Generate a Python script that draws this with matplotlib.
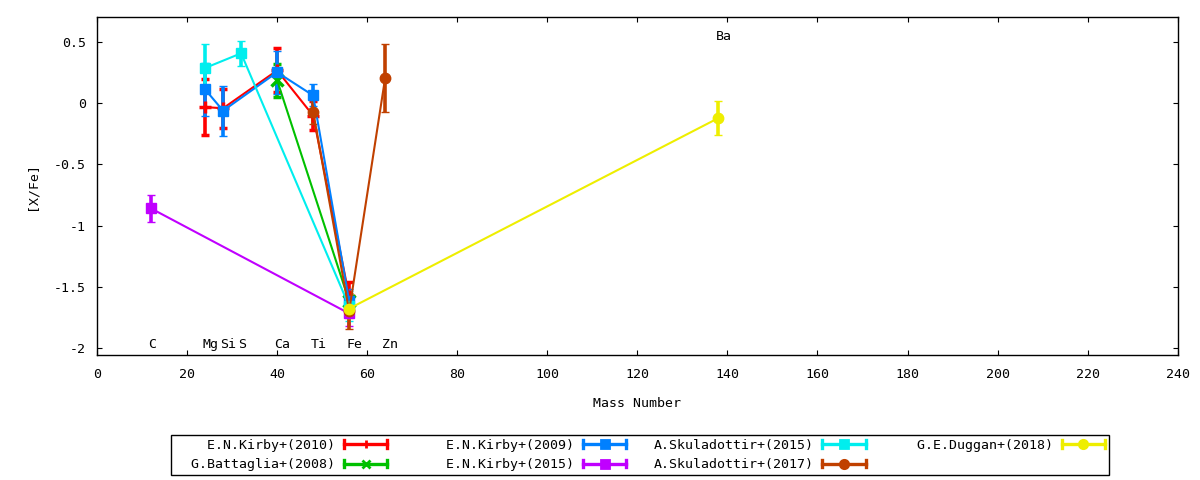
import numpy as np
import matplotlib
matplotlib.use('Agg')
from matplotlib import pyplot as plt
from matplotlib.lines import Line2D
from matplotlib.legend_handler import HandlerBase

plt.rcParams['font.family'] = ['DejaVu Sans Mono']
plt.rcParams['font.size'] = 9.5
plt.rcParams['axes.unicode_minus'] = False

# element labels
elements = ['C', 'Mg', 'Si', 'S', 'Ca', 'Ti', 'Fe', 'Zn', 'Ba']
mass = [12, 24, 28, 32, 40, 48, 56, 64, 138]
label_y = [-1.97, -1.97, -1.97, -1.97, -1.97, -1.97, -1.97, -1.97, 0.55]

# series: mass number, [X/Fe], error
kirby2010_x = [24, 28, 40, 48, 56]
kirby2010_y = [-0.03, -0.04, 0.27, -0.10, -1.58]
kirby2010_e = [0.23, 0.16, 0.18, 0.12, 0.12]

battaglia2008_x = [40, 56]
battaglia2008_y = [0.19, -1.62]
battaglia2008_e = [0.135, 0.05]

kirby2009_x = [24, 28, 40, 48, 56]
kirby2009_y = [0.115, -0.06, 0.255, 0.065, -1.62]
kirby2009_e = [0.215, 0.205, 0.175, 0.09, 0.10]

kirby2015_x = [12, 56]
kirby2015_y = [-0.86, -1.72]
kirby2015_e = [0.11, 0.10]

skul2015_x = [24, 32, 56]
skul2015_y = [0.29, 0.41, -1.66]
skul2015_e = [0.20, 0.10, 0.12]

skul2017_x = [48, 56, 64]
skul2017_y = [-0.07, -1.70, 0.21]
skul2017_e = [0.10, 0.15, 0.28]

duggan2018_x = [56, 138]
duggan2018_y = [-1.68, -0.12]
duggan2018_e = [0.08, 0.14]

series = [
    ('E.N.Kirby+(2010)', kirby2010_x, kirby2010_y, kirby2010_e, '#ff0000', '+'),
    ('G.Battaglia+(2008)', battaglia2008_x, battaglia2008_y, battaglia2008_e, '#00c000', 'x'),
    ('E.N.Kirby+(2009)', kirby2009_x, kirby2009_y, kirby2009_e, '#0080ff', 's'),
    ('E.N.Kirby+(2015)', kirby2015_x, kirby2015_y, kirby2015_e, '#c000ff', 's'),
    ('A.Skuladottir+(2015)', skul2015_x, skul2015_y, skul2015_e, '#00eeee', 's'),
    ('A.Skuladottir+(2017)', skul2017_x, skul2017_y, skul2017_e, '#c04000', 'o'),
    ('G.E.Duggan+(2018)', duggan2018_x, duggan2018_y, duggan2018_e, '#eeee00', 'o'),
]


class ErrKey(HandlerBase):
    # gnuplot style key sample: line with caps at both ends, point in the middle
    def create_artists(self, legend, orig_handle, xdescent, ydescent,
                       width, height, fontsize, trans):
        c = orig_handle.get_color()
        m = orig_handle.get_marker()
        x0 = -xdescent
        x1 = x0 + width
        y0 = -ydescent + height / 2.0
        h = 2.6
        line = Line2D([x0, x1], [y0, y0], color=c, lw=2.4, transform=trans)
        caps = Line2D([x0, x0, np.nan, x1, x1], [y0 - h, y0 + h, np.nan, y0 - h, y0 + h],
                      color=c, lw=2.4, transform=trans)
        mk = Line2D([(x0 + x1) / 2.0], [y0], marker=m, ms=6, mew=2, color=c,
                    ls='none', transform=trans)
        return [line, caps, mk]


fig = plt.figure(figsize=(12, 4.8), dpi=100)
ax = fig.add_axes([97 / 1200, 1 - 355 / 480, (1177.7 - 97) / 1200, (355 - 17.3) / 480])

handles = []
for name, x, y, e, c, m in series:
    if m in ('+', 'x'):
        ms, mew = 8, 2.5
    else:
        ms, mew = 7.5, 1
    ax.errorbar(x, y, yerr=e, color=c, lw=1.5, elinewidth=2.6, capsize=3, capthick=2.6,
                marker=m, ms=ms, mew=mew)
    # key entries all get the same width, text right-aligned like gnuplot
    handles.append(Line2D([], [], color=c, marker=m, label=name.rjust(20)))

for el, mx, ly in zip(elements, mass, label_y):
    ax.text(mx - 0.6, ly, el, ha='left', va='center')

ax.set_xlim(0, 240)
ax.set_ylim(-2.06, 0.705)
ax.set_xticks(np.arange(0, 241, 20))
ax.set_yticks([-2, -1.5, -1, -0.5, 0, 0.5])
ax.set_yticklabels(['-2', '-1.5', '-1', '-0.5', '0', '0.5'])
ax.tick_params(direction='in', top=True, right=True, length=3.5, width=0.8)
ax.tick_params(axis='x', pad=9)
ax.tick_params(axis='y', pad=8)
for s in ax.spines.values():
    s.set_linewidth(1)

ax.set_xlabel('Mass Number', va='center')
ax.xaxis.set_label_coords(0.5, -0.145)
ax.set_ylabel('[X/Fe]', va='center')
ax.yaxis.set_label_coords(-0.06, 0.5)

leg = fig.legend(handles=handles, handler_map={Line2D: ErrKey()}, ncol=4,
                 markerfirst=False, loc='center',
                 bbox_to_anchor=(640 / 1200, 1 - 455 / 480),
                 borderaxespad=0, handlelength=3.26, handletextpad=0.68,
                 columnspacing=2.05, labelspacing=0.5, borderpad=0.3,
                 fancybox=False, framealpha=1, edgecolor='black')
leg.get_frame().set_linewidth(1)

fig.savefig('out.png', dpi=100)
